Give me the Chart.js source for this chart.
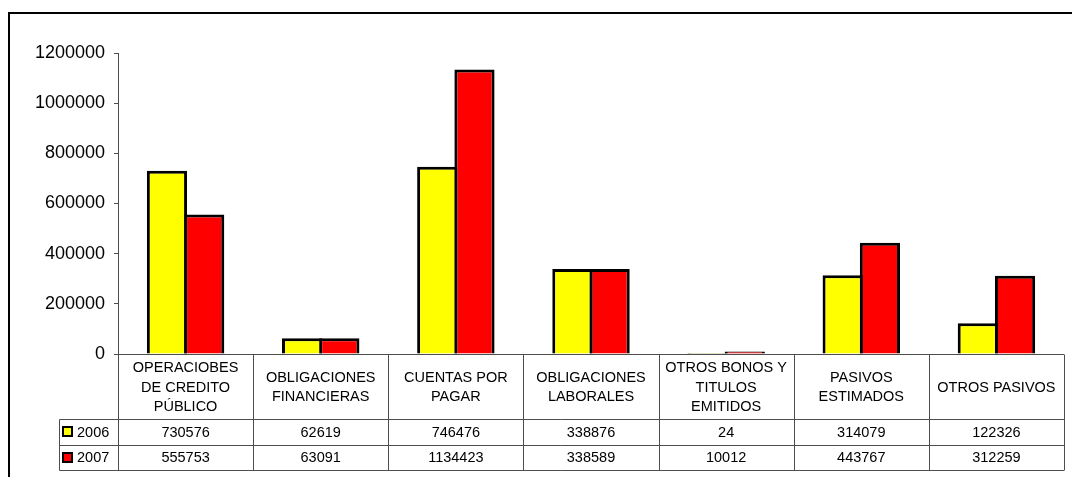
<!DOCTYPE html>
<html>
<head>
<meta charset="utf-8">
<script src="https://cdn.jsdelivr.net/npm/chart.js@4"></script>
<style>
  html, body { margin: 0; padding: 0; background: #fff; }
  #wrap { width: 1072px; height: 477px; }
</style>
</head>
<body>
<div id="wrap"><canvas id="c" width="1072" height="477"></canvas></div>
<script>
// Categories (multi-line headers of the data table)
const categories = [
  ["OPERACIOBES", "DE CREDITO", "PÚBLICO"],
  ["OBLIGACIONES", "FINANCIERAS"],
  ["CUENTAS POR", "PAGAR"],
  ["OBLIGACIONES", "LABORALES"],
  ["OTROS BONOS Y", "TITULOS", "EMITIDOS"],
  ["PASIVOS", "ESTIMADOS"],
  ["OTROS PASIVOS"]
];
const seriesNames = ["2006", "2007"];
const values2006 = [730576, 62619, 746476, 338876, 24, 314079, 122326];
const values2007 = [555753, 63091, 1134423, 338589, 10012, 443767, 312259];
const yTicks = [0, 200000, 400000, 600000, 800000, 1000000, 1200000];

const FONT = '"Liberation Sans", Arial, sans-serif';
const LINE = '#4d4d4d';

// Frame around the chart object, and the data table under the plot
const tablePlugin = {
  id: 'dataTable',
  beforeDraw(chart) {
    const ctx = chart.ctx;
    ctx.save();
    ctx.fillStyle = '#fff';
    ctx.fillRect(0, 0, chart.width, chart.height);
    ctx.strokeStyle = '#000';
    ctx.lineWidth = 2;
    ctx.beginPath();
    ctx.moveTo(9, chart.height);
    ctx.lineTo(9, 13);
    ctx.lineTo(chart.width, 13);
    ctx.stroke();
    ctx.restore();
  },
  afterDraw(chart) {
    const ctx = chart.ctx;
    const x = chart.scales.x;
    const area = chart.chartArea;
    const n = categories.length;
    const cw = (area.right - area.left) / n;
    const top = area.bottom;
    const hdrBottom = top + 65;
    const rowH = 25.5;
    const r1 = hdrBottom + rowH;
    const r2 = r1 + rowH;
    const legLeft = 59.5;

    ctx.save();
    ctx.strokeStyle = LINE;
    ctx.lineWidth = 1;
    ctx.beginPath();
    // axis line and table horizontals
    ctx.moveTo(area.left, Math.round(top) + 0.5);
    ctx.lineTo(area.right, Math.round(top) + 0.5);
    ctx.moveTo(legLeft, Math.round(hdrBottom) + 0.5);
    ctx.lineTo(area.right, Math.round(hdrBottom) + 0.5);
    ctx.moveTo(legLeft, Math.round(r1) + 0.5);
    ctx.lineTo(area.right, Math.round(r1) + 0.5);
    ctx.moveTo(legLeft, Math.round(r2) + 0.5);
    ctx.lineTo(area.right, Math.round(r2) + 0.5);
    // legend column left edge
    ctx.moveTo(legLeft, Math.round(hdrBottom) + 0.5);
    ctx.lineTo(legLeft, Math.round(r2) + 0.5);
    // category separators
    for (let i = 0; i <= n; i++) {
      const px = Math.round(x.getPixelForValue(i) - cw / 2) + 0.5;
      ctx.moveTo(px, Math.round(top) + 0.5);
      ctx.lineTo(px, Math.round(r2) + 0.5);
    }
    ctx.stroke();

    // header text
    ctx.fillStyle = '#000';
    ctx.textAlign = 'center';
    ctx.textBaseline = 'middle';
    ctx.font = '14.5px ' + FONT;
    const hdrMid = (top + hdrBottom) / 2;
    const lh = 19.5;
    categories.forEach((lines, i) => {
      const cx = x.getPixelForValue(i);
      const y0 = hdrMid - (lines.length - 1) * lh / 2;
      lines.forEach((t, j) => ctx.fillText(t, cx, y0 + j * lh + 1));
    });

    // value rows
    const rows = [values2006, values2007];
    const rowMids = [(hdrBottom + r1) / 2, (r1 + r2) / 2];
    rows.forEach((vals, r) => {
      vals.forEach((v, i) => {
        ctx.fillText(String(v), x.getPixelForValue(i), rowMids[r] + 1);
      });
    });

    // legend keys
    chart.data.datasets.forEach((ds, r) => {
      const ky = Math.round(rowMids[r] - 4.5);
      ctx.fillStyle = ds.backgroundColor;
      ctx.fillRect(63, ky, 9, 9);
      ctx.strokeStyle = '#000';
      ctx.lineWidth = 2;
      ctx.strokeRect(63, ky, 9, 9);
      ctx.fillStyle = '#000';
      ctx.textAlign = 'left';
      ctx.fillText(seriesNames[r], 77, rowMids[r] + 1);
    });
    ctx.restore();
  }
};

new Chart(document.getElementById('c'), {
  type: 'bar',
  data: {
    labels: categories,
    datasets: [
      { label: seriesNames[0], data: values2006, backgroundColor: '#FFFF00', borderColor: '#000', borderWidth: 3 },
      { label: seriesNames[1], data: values2007, backgroundColor: '#FF0000', borderColor: '#000', borderWidth: 3 }
    ]
  },
  options: {
    responsive: false,
    animation: false,
    events: [],
    layout: { padding: { left: 0, top: 53, right: 8, bottom: 123 } },
    plugins: { legend: { display: false }, tooltip: { enabled: false } },
    // neighbouring bars share one outline, so each bar is a little wider than its slot
    datasets: { bar: { categoryPercentage: 0.551, barPercentage: 1.08 } },
    scales: {
      x: { display: false },
      y: {
        min: 0,
        max: 1200000,
        afterFit(scale) { scale.width = 118; },
        afterBuildTicks(scale) { scale.ticks = yTicks.map(v => ({ value: v })); },
        ticks: {
          color: '#000',
          padding: 9,
          font: { family: FONT, size: 18 },
          callback: v => String(v)
        },
        grid: { drawOnChartArea: false, drawTicks: true, tickLength: 4, color: LINE },
        border: { display: true, color: LINE, width: 1 }
      }
    }
  },
  plugins: [tablePlugin]
});
</script>
</body>
</html>
